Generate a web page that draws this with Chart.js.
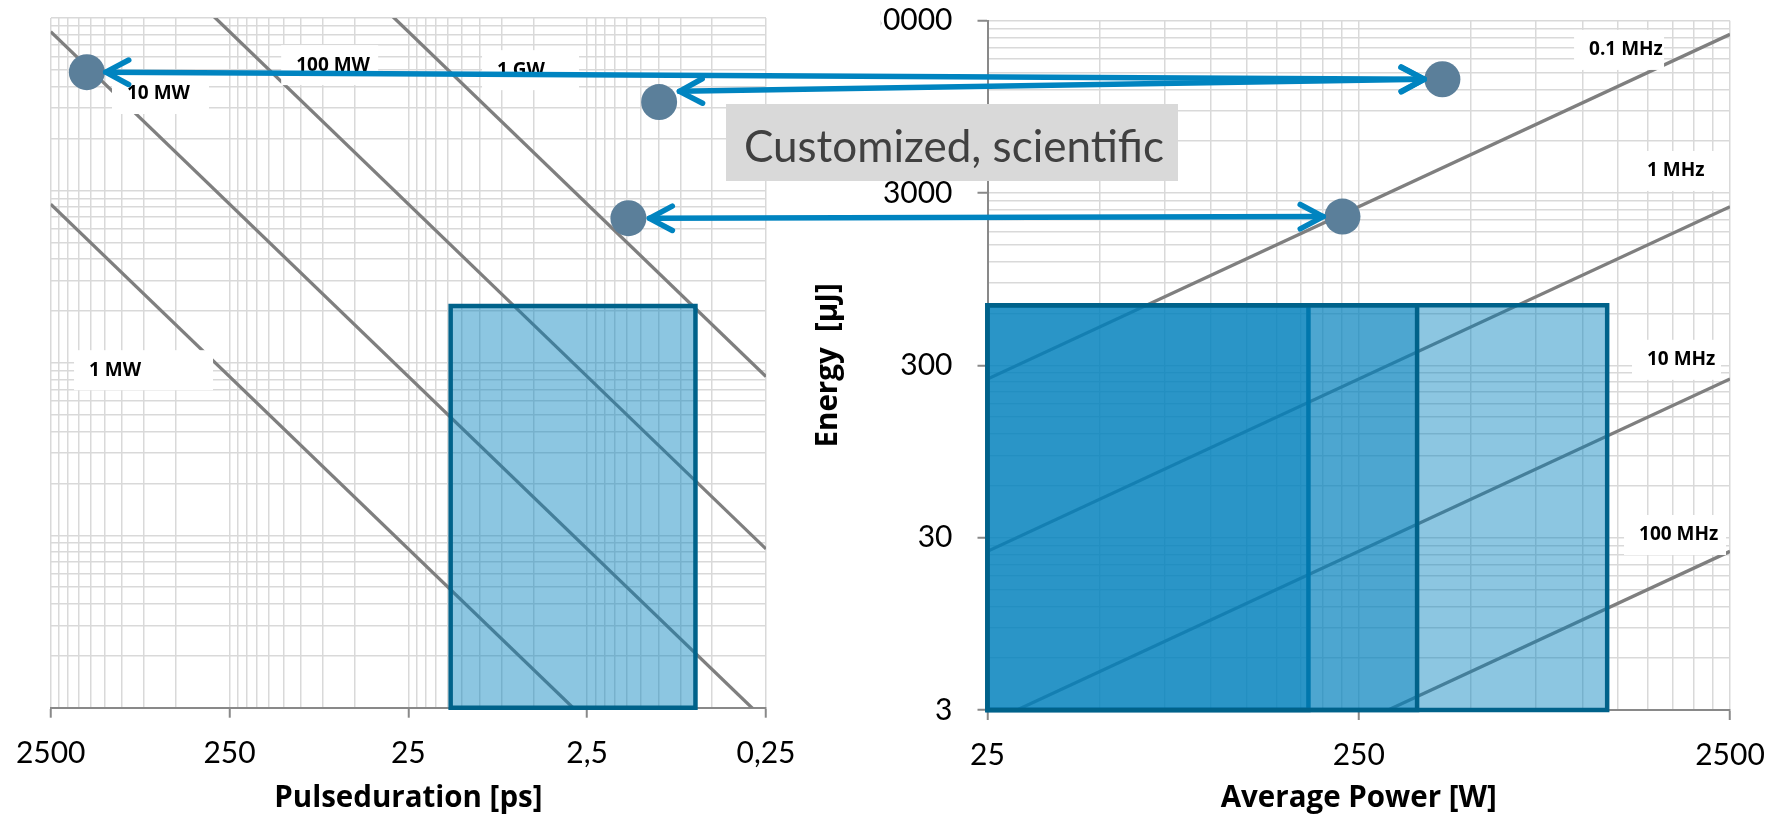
<!DOCTYPE html>
<html lang="en">
<head>
<meta charset="UTF-8">
<title>Pulse energy vs. pulse duration and average power</title>
<script src="https://cdn.jsdelivr.net/npm/chart.js@4"></script>
<style>
  html, body { margin: 0; padding: 0; background: #fff; }
  #wrap { position: relative; width: 1776px; height: 819px; }
  #wrap canvas { position: absolute; left: 0; top: 0; }
</style>
</head>
<body>
<div id="wrap">
  <canvas id="pulseChart" width="1776" height="819"></canvas>
  <canvas id="powerChart" width="1776" height="819"></canvas>
</div>
<script>
// ---- left chart: pulse duration [ps] against energy [µJ] ----
var pulseMajorTicks = [2500, 250, 25, 2.5, 0.25];
var pulseTickLabels = ['2500', '250', '25', '2,5', '0,25'];
var energyMajorTicks = [3, 30, 300, 3000, 30000];
var energyTickLabels = ['3', '30', '300', '3000', '30000'];
var powerMajorTicks = [25, 250, 2500];
var powerTickLabels = ['25', '250', '2500'];

// peak power lines (end points, tau [ps] / energy [µJ])
var peakPowerNames = ['1 MW', '10 MW', '100 MW', '1 GW'];
var peakPowerTau = [[2500, 0.25], [2500, 0.25], [2500, 0.25], [2500, 0.25]];
var peakPowerEnergy = [[2500, 0.25], [25000, 2.5], [250000, 25], [2500000, 250]];
var peakPowerLabelTau = [1526, 936, 106, 7.98];
var peakPowerLabelEnergy = [272, 10870, 15990, 14950];

// operating range box on the left
var pulseBoxTau = [14.5, 0.62];
var pulseBoxEnergy = [3, 640];

// marked systems, left side
var pulsePointTau = [1570, 0.99, 1.47];
var pulsePointEnergy = [14560, 9770, 2070];

// ---- right chart: average power [W] against energy [µJ] ----
var repRateNames = ['0.1 MHz', '1 MHz', '10 MHz', '100 MHz'];
var repRatePower = [[25, 2500], [25, 2500], [25, 2500], [25, 2500]];
var repRateEnergy = [[250, 25000], [25, 2500], [2.5, 250], [0.25, 25]];
var repRateLabelPower = [1043, 1494, 1494, 1422];
var repRateLabelEnergy = [20300, 4030, 323, 31.1];

// three ranges, all starting at 25 W
var powerBoxStart = [25, 25, 25];
var powerBoxEnd = [183, 359, 1167];
var powerBoxEnergy = [3, 670];

// marked systems, right side
var powerPointPower = [420, 226];
var powerPointEnergy = [13720, 2190];

// arrows: left end (tau, energy) -> right end (power, energy)
var arrowTau = [1231, 0.762, 1.122];
var arrowTauEnergy = [14560, 11265, 2067];
var arrowPower = [375, 375, 200.5];
var arrowPowerEnergy = [13720, 13720, 2189];

var noteText = 'Customized, scientific';

var gridColor = '#d9d9d9';
var axisColor = '#898989';
var lineGray = '#7f7f7f';
var boxFill = 'rgba(0, 129, 188, 0.45)';
var boxEdge = '#00628a';
var dotColor = '#5b7f9a';
var arrowColor = '#0084c0';
var titleFont = { family: '"Open Sans"', size: 29.5, weight: 'bold' };
var tickFont = { family: 'Lato', size: 30 };

function logTicks(majors) {
    var sorted = majors.slice().sort(function (a, b) { return a - b; });
    var ticks = [];
    sorted.forEach(function (m, i) {
        ticks.push({ value: m, major: true });
        if (i < sorted.length - 1) {
            for (var k = 2; k <= 9; k++) {
                ticks.push({ value: +(m * k).toPrecision(6), major: false });
            }
        }
    });
    return ticks;
}

function tickText(majors, labels) {
    return function (value, index, ticks) {
        var t = ticks[index];
        if (!t || !t.major) return '';
        var j = majors.indexOf(t.value);
        return j < 0 ? '' : labels[j];
    };
}

function majorTickColor(ctx) {
    return ctx.tick && ctx.tick.major ? axisColor : 'rgba(0,0,0,0)';
}

// fixed scale size, and no extra room reserved for the end labels
function fixSize(prop, size) {
    return function (s) {
        s[prop] = size;
        s.paddingLeft = s.paddingRight = s.paddingTop = s.paddingBottom = 0;
    };
}

function lineSets(xsArr, ysArr) {
    return xsArr.map(function (xs, i) {
        return {
            data: xs.map(function (x, j) { return { x: x, y: ysArr[i][j] }; }),
            showLine: true,
            borderColor: lineGray,
            borderWidth: 3.3,
            pointRadius: 0,
            fill: false,
            clip: 0,
            order: 5
        };
    });
}

function boxSet(xs, ys, order) {
    return {
        data: [
            { x: xs[0], y: ys[0] }, { x: xs[0], y: ys[1] },
            { x: xs[1], y: ys[1] }, { x: xs[1], y: ys[0] },
            { x: xs[0], y: ys[0] }
        ],
        showLine: true,
        fill: 'shape',
        backgroundColor: boxFill,
        borderColor: boxEdge,
        borderWidth: 4.5,
        borderJoinStyle: 'miter',
        borderCapStyle: 'square',
        pointRadius: 0,
        clip: 6,
        order: order
    };
}

function dotSet(xs, ys) {
    return {
        data: xs.map(function (x, i) { return { x: x, y: ys[i] }; }),
        pointRadius: 18,
        pointBackgroundColor: dotColor,
        pointBorderColor: dotColor,
        pointBorderWidth: 0,
        showLine: false,
        clip: false,
        order: 0
    };
}

// white label boxes next to the gray lines
function makeLabelPlugin(texts, xs, ys, boxWidths) {
    return {
        id: 'lineLabels',
        afterDatasetsDraw: function (chart) {
            var ctx = chart.ctx, sx = chart.scales.x, sy = chart.scales.y;
            ctx.save();
            ctx.font = 'bold 19px "Open Sans"';
            ctx.textBaseline = 'middle';
            texts.forEach(function (t, i) {
                var px = sx.getPixelForValue(xs[i]);
                var py = sy.getPixelForValue(ys[i]);
                ctx.fillStyle = '#fff';
                ctx.fillRect(px - 15, py - 20, boxWidths[i], 40);
                ctx.fillStyle = '#000';
                ctx.fillText(t, px, py);
            });
            ctx.restore();
        }
    };
}

function arrowHead(ctx, tx, ty, fx, fy) {
    var ang = Math.atan2(ty - fy, tx - fx);
    var len = 26, spread = 28 * Math.PI / 180;
    ctx.beginPath();
    ctx.moveTo(tx - len * Math.cos(ang - spread), ty - len * Math.sin(ang - spread));
    ctx.lineTo(tx, ty);
    ctx.lineTo(tx - len * Math.cos(ang + spread), ty - len * Math.sin(ang + spread));
    ctx.stroke();
}

var baseOptions = {
    responsive: false,
    animation: false,
    events: [],
    plugins: { legend: { display: false }, tooltip: { enabled: false } }
};

var pulseChart, powerChart;

function build() {
    Chart.defaults.font.family = 'Lato, sans-serif';

    pulseChart = new Chart(document.getElementById('pulseChart').getContext('2d'), {
        type: 'scatter',
        data: {
            datasets: [dotSet(pulsePointTau, pulsePointEnergy), boxSet(pulseBoxTau, pulseBoxEnergy, 2)]
                .concat(lineSets(peakPowerTau, peakPowerEnergy))
        },
        options: Object.assign({}, baseOptions, {
            layout: { padding: { left: 50.7, top: 15.7, right: 1010, bottom: 0 } },
            scales: {
                x: {
                    type: 'logarithmic',
                    position: 'bottom',
                    reverse: true,
                    min: 0.25,
                    max: 2500,
                    afterBuildTicks: function (s) { s.ticks = logTicks(pulseMajorTicks); },
                    afterFit: fixSize('height', 111.3),
                    grid: { color: gridColor, lineWidth: 1.5, tickLength: 10, tickColor: majorTickColor, tickWidth: 2 },
                    border: { display: true, color: axisColor, width: 2 },
                    ticks: {
                        autoSkip: false, maxRotation: 0, minRotation: 0, padding: 18,
                        color: '#000', font: tickFont,
                        callback: tickText(pulseMajorTicks, pulseTickLabels)
                    },
                    title: { display: true, text: 'Pulseduration [ps]', color: '#000', font: titleFont, padding: { top: 0, bottom: 3 } }
                },
                y: {
                    type: 'logarithmic',
                    position: 'left',
                    min: 3,
                    max: 30000,
                    afterBuildTicks: function (s) { s.ticks = logTicks(energyMajorTicks); },
                    afterFit: fixSize('width', 0),
                    grid: { color: gridColor, lineWidth: 1.5, drawTicks: false },
                    border: { display: false },
                    ticks: { display: false }
                }
            }
        }),
        plugins: [makeLabelPlugin(peakPowerNames, peakPowerLabelTau, peakPowerLabelEnergy, [139, 97, 97, 97])]
    });

    // note box, arrows between both charts, clipped top label
    var overlayPlugin = {
        id: 'overlays',
        afterDraw: function (chart) {
            var ctx = chart.ctx;
            var lx = pulseChart.scales.x, ly = pulseChart.scales.y;
            var rx = chart.scales.x, ry = chart.scales.y;
            ctx.save();

            // the first digit of the top energy label is cut off in the source
            ctx.font = '30px Lato';
            var topLabel = energyTickLabels[energyTickLabels.length - 1];
            var labelRight = ry.right - 10 - 25;
            var full = ctx.measureText(topLabel).width;
            var tail = ctx.measureText(topLabel.slice(1)).width;
            ctx.fillStyle = '#fff';
            ctx.fillRect(labelRight - full - 3, 0, full - tail + 1, ry.top + 24);

            ctx.fillStyle = '#d9d9d9';
            ctx.fillRect(726, 104, 452, 77);
            ctx.fillStyle = '#404040';
            ctx.font = '44px Lato';
            ctx.textBaseline = 'alphabetic';
            ctx.fillText(noteText, 744, 162);

            ctx.strokeStyle = arrowColor;
            ctx.lineWidth = 5.5;
            ctx.lineCap = 'round';
            ctx.lineJoin = 'round';
            arrowTau.forEach(function (tau, i) {
                var x1 = lx.getPixelForValue(tau), y1 = ly.getPixelForValue(arrowTauEnergy[i]);
                var x2 = rx.getPixelForValue(arrowPower[i]), y2 = ry.getPixelForValue(arrowPowerEnergy[i]);
                ctx.beginPath();
                ctx.moveTo(x1, y1);
                ctx.lineTo(x2, y2);
                ctx.stroke();
                arrowHead(ctx, x1, y1, x2, y2);
                arrowHead(ctx, x2, y2, x1, y1);
            });
            ctx.restore();
        }
    };

    var powerSets = [dotSet(powerPointPower, powerPointEnergy)];
    // B on top, then C, A at the bottom
    powerSets.push(boxSet([powerBoxStart[1], powerBoxEnd[1]], powerBoxEnergy, 1));
    powerSets.push(boxSet([powerBoxStart[2], powerBoxEnd[2]], powerBoxEnergy, 2));
    powerSets.push(boxSet([powerBoxStart[0], powerBoxEnd[0]], powerBoxEnergy, 3));

    powerChart = new Chart(document.getElementById('powerChart').getContext('2d'), {
        type: 'scatter',
        data: { datasets: powerSets.concat(lineSets(repRatePower, repRateEnergy)) },
        options: Object.assign({}, baseOptions, {
            layout: { padding: { left: 800, top: 20.7, right: 46, bottom: 0 } },
            scales: {
                x: {
                    type: 'logarithmic',
                    position: 'bottom',
                    min: 25,
                    max: 2500,
                    afterBuildTicks: function (s) { s.ticks = logTicks(powerMajorTicks); },
                    afterFit: fixSize('height', 109),
                    grid: { color: gridColor, lineWidth: 1.5, tickLength: 10, tickColor: majorTickColor, tickWidth: 2 },
                    border: { display: true, color: axisColor, width: 2 },
                    ticks: {
                        autoSkip: false, maxRotation: 0, minRotation: 0, padding: 17,
                        color: '#000', font: tickFont,
                        callback: tickText(powerMajorTicks, powerTickLabels)
                    },
                    title: { display: true, text: 'Average Power [W]', color: '#000', font: titleFont, padding: { top: 0, bottom: 3 } }
                },
                y: {
                    type: 'logarithmic',
                    position: 'left',
                    min: 3,
                    max: 30000,
                    afterBuildTicks: function (s) { s.ticks = logTicks(energyMajorTicks); },
                    afterFit: fixSize('width', 187.5),
                    grid: { color: gridColor, lineWidth: 1.5, tickLength: 10, tickColor: majorTickColor, tickWidth: 2 },
                    border: { display: true, color: axisColor, width: 2 },
                    ticks: {
                        autoSkip: false, padding: 25, color: '#000', font: tickFont,
                        callback: tickText(energyMajorTicks, energyTickLabels)
                    },
                    title: { display: true, text: 'Energy  [µJ]', color: '#000', font: titleFont, padding: { top: 11, bottom: 0 } }
                }
            }
        }),
        plugins: [makeLabelPlugin(repRateNames, repRateLabelPower, repRateLabelEnergy, [90, 89, 89, 102]), overlayPlugin]
    });
}

if (document.fonts && document.fonts.load) {
    Promise.all([
        document.fonts.load('30px Lato'),
        document.fonts.load('44px Lato'),
        document.fonts.load('bold 29.5px "Open Sans"'),
        document.fonts.load('bold 19px "Open Sans"')
    ]).then(build, build);
} else {
    build();
}
</script>
</body>
</html>
